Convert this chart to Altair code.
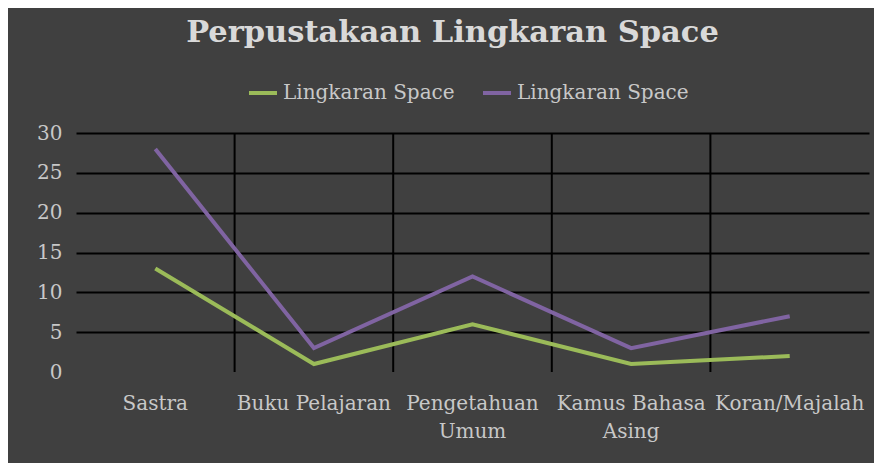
import json
import altair as alt
import pandas as pd

# ---- data ----
categories = ["Sastra", "Buku Pelajaran", "Pengetahuan Umum", "Kamus Bahasa Asing", "Koran/Majalah"]
series_labels = ["Lingkaran Space", "Lingkaran Space"]
green_values = [13, 1, 6, 1, 2]
purple_values = [28, 3, 12, 3, 7]
series_colors = ["#9BBB59", "#8064A2"]
y_ticks = [0, 5, 10, 15, 20, 25, 30]
wrapped_labels = {"Pengetahuan Umum": ["Pengetahuan", "Umum"],
                  "Kamus Bahasa Asing": ["Kamus Bahasa", "Asing"]}
title_text = "Perpustakaan Lingkaran Space"

rows = []
for key, vals in enumerate([green_values, purple_values]):
    for c, v in zip(categories, vals):
        rows.append({"kategori": c, "nilai": v, "seri": str(key)})
df = pd.DataFrame(rows)
bounds_df = pd.DataFrame({"kategori": categories[1:]})

FONT = "DejaVu Serif"
TXT = "#c8c8c8"
BG = "#404040"

x_scale = alt.Scale(type="band", domain=categories, paddingInner=0, paddingOuter=0)
y_scale = alt.Scale(domain=[0, 30], nice=False, zero=True)

label_expr_x = ("(" + json.dumps(wrapped_labels) + ")[datum.value] || datum.value")
label_expr_legend = json.dumps(series_labels) + "[+datum.value]"

x_axis = alt.Axis(title=None, domain=False, ticks=False, grid=False,
                  bandPosition=0.5,
                  labelAngle=0, labelFont=FONT, labelFontSize=20,
                  labelColor=TXT, labelPadding=21, labelLineHeight=28,
                  labelExpr=label_expr_x, labelOverlap=False, labelLimit=0)
y_axis = alt.Axis(title=None, domain=False, ticks=False, values=y_ticks,
                  labelOverlap=False, grid=True,
                  labelFont=FONT, labelFontSize=20, labelColor=TXT,
                  labelPadding=14, gridColor="#000000", gridWidth=2,
                  gridOpacity={"condition": {"test": "datum.value === 0", "value": 0}, "value": 1})

lines = alt.Chart(df).mark_line(strokeWidth=4, strokeCap="butt").encode(
    x=alt.X("kategori:N", scale=x_scale, sort=categories, bandPosition=0.5, axis=x_axis),
    y=alt.Y("nilai:Q", scale=y_scale, axis=y_axis),
    color=alt.Color("seri:N", scale=alt.Scale(domain=["0", "1"], range=series_colors),
                    legend=alt.Legend(orient="none", legendX=171, legendY=-56,
                                      direction="horizontal", title=None,
                                      symbolType="stroke", symbolSize=784,
                                      symbolStrokeWidth=4, columnPadding=20,
                                      labelOffset=4, labelFont=FONT, labelFontSize=20,
                                      labelColor=TXT, labelExpr=label_expr_legend,
                                      labelLimit=0, padding=0)),
    order=alt.Order("seri:N"),
)

rules = alt.Chart(bounds_df).mark_rule(color="#000000", strokeWidth=2).encode(
    x=alt.X("kategori:N", scale=x_scale, bandPosition=0, axis=x_axis),
    y=alt.datum(30, scale=y_scale, axis=y_axis),
    y2=alt.datum(0),
)

chart = alt.layer(rules, lines).properties(
    width=793,
    height=239,
    padding={"left": 68, "top": 125, "right": 5, "bottom": 91},
    autosize=alt.AutoSizeParams(type="none"),
    background=BG,
    title=alt.TitleParams(title_text, font=FONT, fontSize=30.5, fontWeight="bold",
                          color="#d9d9d9", anchor="middle", dx=-20, offset=29),
).configure_view(stroke=None)

chart.save("out.html", embed_options={"renderer": "svg", "actions": False})
